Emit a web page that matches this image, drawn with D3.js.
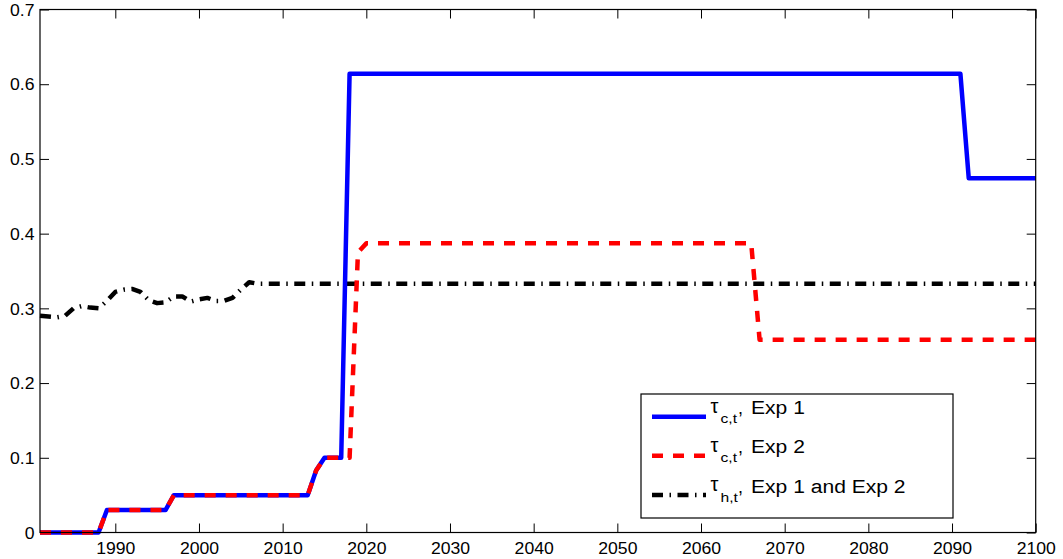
<!DOCTYPE html>
<html>
<head>
<meta charset="utf-8">
<script src="https://cdn.jsdelivr.net/npm/d3@7/dist/d3.min.js"></script>
<style>
  html, body { margin: 0; padding: 0; background: #fff; }
  svg { display: block; font-family: "Liberation Sans", Arial, Helvetica, sans-serif; }
</style>
</head>
<body>
<svg id="chart" width="1063" height="559"></svg>
<script>
// ---- data ----
const exp1Years  = [1981, 1988, 1989, 1996, 1997, 2013, 2014, 2015, 2017, 2018, 2091, 2092, 2100];
const exp1Values = [0, 0, 0.03, 0.03, 0.05, 0.05, 0.083, 0.1, 0.1, 0.614, 0.614, 0.474, 0.474];

const exp2Years  = [1981, 1988, 1989, 1996, 1997, 2013, 2014, 2015, 2018, 2019, 2020, 2066, 2067, 2100];
const exp2Values = [0, 0, 0.03, 0.03, 0.05, 0.05, 0.083, 0.1, 0.1, 0.375, 0.387, 0.387, 0.258, 0.258];

const tauHYears  = [1981, 1982, 1983, 1984, 1985, 1986, 1987, 1988, 1989, 1990, 1991, 1992, 1993, 1994,
                    1995, 1996, 1997, 1998, 1999, 2000, 2001, 2002, 2003, 2004, 2005, 2006, 2007, 2100];
const tauHValues = [0.290, 0.289, 0.288, 0.290, 0.300, 0.303, 0.301, 0.300, 0.310, 0.322, 0.325, 0.326, 0.322, 0.311,
                    0.307, 0.308, 0.316, 0.316, 0.309, 0.312, 0.314, 0.310, 0.310, 0.314, 0.325, 0.335, 0.333, 0.333];

const xTicks = [1990, 2000, 2010, 2020, 2030, 2040, 2050, 2060, 2070, 2080, 2090, 2100];
const yTicks = [0, 0.1, 0.2, 0.3, 0.4, 0.5, 0.6, 0.7];
const yTickLabels = ["0", "0.1", "0.2", "0.3", "0.4", "0.5", "0.6", "0.7"];

const legendSubs  = ["c,t", "c,t", "h,t"];
const legendTexts = ["Exp 1", "Exp 2", "Exp 1 and Exp 2"];

// ---- layout ----
const L = 40, R = 1035.7, T = 9.5, B = 532.5;
const svg = d3.select("#chart");
const x = d3.scaleLinear().domain([1981, 2100]).range([L, R]);
const y = d3.scaleLinear().domain([0, 0.7]).range([B, T]);
const TICK_FS = 16;
const TICK_STRETCH = 1.1;

function stretch(sel, factor) {
  sel.each(function () {
    const w = this.getComputedTextLength();
    d3.select(this).attr("textLength", w * factor).attr("lengthAdjust", "spacingAndGlyphs");
  });
}

// ---- axes (box with inward ticks) ----
const tickLen = 9;
const gAxes = svg.append("g");
function styleAxis(g) {
  g.select(".domain").remove();
  g.selectAll(".tick line").attr("stroke", "#000").attr("stroke-width", 1);
}
const xb = gAxes.append("g").attr("transform", `translate(0,${B})`)
  .call(d3.axisBottom(x).tickValues(xTicks).tickSize(-tickLen).tickFormat(d3.format("d")));
styleAxis(xb);
xb.selectAll("text").attr("y", 21.8).attr("dy", 0)
  .attr("font-size", TICK_FS).attr("fill", "#000").attr("font-family", "Liberation Sans, Arial, sans-serif");
stretch(xb.selectAll("text"), TICK_STRETCH);

const xt = gAxes.append("g").attr("transform", `translate(0,${T})`)
  .call(d3.axisTop(x).tickValues(xTicks).tickSize(-tickLen).tickFormat(""));
styleAxis(xt);
const yl = gAxes.append("g").attr("transform", `translate(${L},0)`)
  .call(d3.axisLeft(y).tickValues(yTicks).tickSize(-tickLen).tickFormat((d, i) => yTickLabels[i]));
styleAxis(yl);
yl.selectAll("text").attr("x", -5.5).attr("dy", "0.36em")
  .attr("font-size", TICK_FS).attr("fill", "#000").attr("font-family", "Liberation Sans, Arial, sans-serif");
stretch(yl.selectAll("text"), TICK_STRETCH);
const yr = gAxes.append("g").attr("transform", `translate(${R},0)`)
  .call(d3.axisRight(y).tickValues(yTicks).tickSize(-tickLen).tickFormat(""));
styleAxis(yr);

// ---- lines ----
const line = d3.line().x(d => x(d[0])).y(d => y(d[1]));
const zip = (a, b) => a.map((v, i) => [v, b[i]]);

const series = [
  { data: zip(exp1Years, exp1Values), color: "#0000ff", dash: null },
  { data: zip(exp2Years, exp2Values), color: "#ff0000", dash: "11,10" },
  { data: zip(tauHYears, tauHValues), color: "#000000", dash: "11,6.5,1.5,6.5" }
];
const gLines = svg.append("g");
[series[2], series[0], series[1]].forEach(s => {
  gLines.append("path")
    .attr("d", line(s.data))
    .attr("fill", "none")
    .attr("stroke", s.color)
    .attr("stroke-width", 4.5)
    .attr("stroke-linejoin", "round")
    .attr("stroke-dasharray", s.dash);
});

// box
svg.append("rect").attr("x", L).attr("y", T).attr("width", R - L).attr("height", B - T)
  .attr("fill", "none").attr("stroke", "#000").attr("stroke-width", 1.2);

// ---- legend ----
const lg = svg.append("g");
lg.append("rect").attr("x", 641).attr("y", 394).attr("width", 312).attr("height", 124)
  .attr("fill", "#fff").attr("stroke", "#000").attr("stroke-width", 1.2);
const rowY = [416.7, 455.7, 495];
const LEG_FS = 18;
series.forEach((s, i) => {
  const base = rowY[i] - 2.5;
  lg.append("line").attr("x1", 652).attr("x2", 706).attr("y1", rowY[i]).attr("y2", rowY[i])
    .attr("stroke", s.color).attr("stroke-width", 4.5).attr("stroke-dasharray", s.dash);
  lg.append("text").attr("x", 710.5).attr("y", base - 1.5).attr("font-size", 20).attr("fill", "#000").text("τ");
  const sub = lg.append("text").attr("x", 720.5).attr("y", base + 9).attr("font-size", 13).attr("fill", "#000")
    .text(legendSubs[i]);
  stretch(sub, 1.2);
  lg.append("text").attr("x", 738).attr("y", base).attr("font-size", LEG_FS).attr("fill", "#000").text(",");
  const main = lg.append("text").attr("x", 751).attr("y", base).attr("font-size", LEG_FS).attr("fill", "#000")
    .text(legendTexts[i]);
  stretch(main, 1.17);
});
</script>
</body>
</html>
